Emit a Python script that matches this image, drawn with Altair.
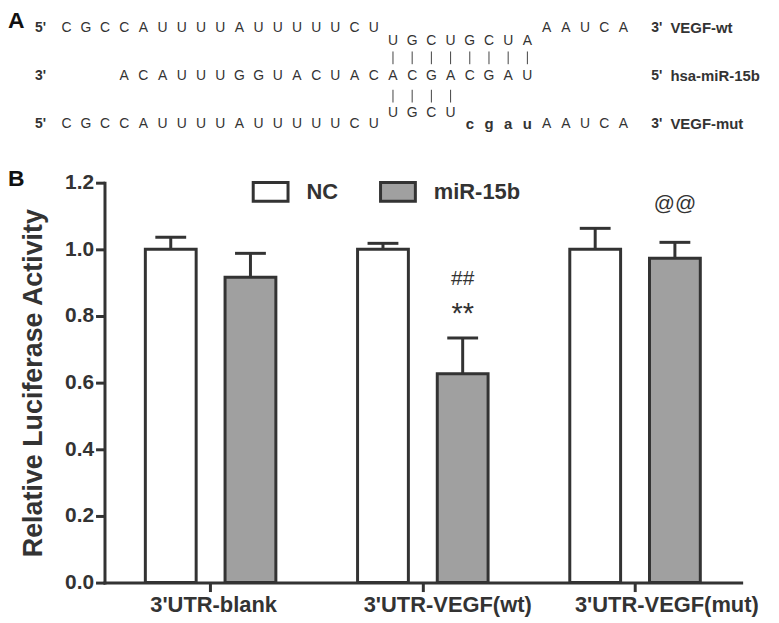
import altair as alt
import pandas as pd

# ---------------- Panel B data ----------------
groups = ["3'UTR-blank", "3'UTR-VEGF(wt)", "3'UTR-VEGF(mut)"]
treatments = ["NC", "miR-15b"]
nc_values = [1.0, 1.0, 1.0]
nc_err_top = [1.036, 1.018, 1.063]
mir_values = [0.916, 0.627, 0.973]
mir_err_top = [0.988, 0.734, 1.021]

annot_groups = ["3'UTR-VEGF(wt)", "3'UTR-VEGF(wt)", "3'UTR-VEGF(mut)"]
annot_treat = ["miR-15b", "miR-15b", "miR-15b"]
annot_text = ["##", "**", "@@"]
annot_y = [0.893, 0.779, 1.119]

y_ticks = [0.0, 0.2, 0.4, 0.6, 0.8, 1.0, 1.2]

# ---------------- Panel A data ----------------
wt_5 = "CGCCAUUUUAUUUUUCU"
wt_site = "UGCUGCUA"
utr_tail = "AAUCA"
mir_seq = "ACAUUUGGUACUACACGACGAU"
mut_paired = "UGCU"
mut_site = "cgau"
left_ends = ["5'", "3'", "5'"]
right_ends = ["3'", "5'", "3'"]
names = ["VEGF-wt", "hsa-miR-15b", "VEGF-mut"]

DARK = "#333333"
GRAY = "#a0a0a0"
FONT = "Liberation Sans"

# layout levels for the sequence diagram rows
ROW_WT, ROW_WT_SITE, ROW_PIPE1, ROW_MIR, ROW_PIPE2, ROW_MUT_SITE, ROW_MUT = 0, 0.65, 1.475, 2.375, 3.4, 4.25, 4.8
PIPE_HALF = 0.32

rows = []
def put(seq, start, level, kind):
    for i, ch in enumerate(seq):
        rows.append({"col": start + i, "level": level, "char": ch, "kind": kind,
                     "lo": level - PIPE_HALF, "hi": level + PIPE_HALF})

put(wt_5, -len(wt_5), ROW_WT, "seq")
put(wt_site, 0, ROW_WT_SITE, "seq")
put(utr_tail, len(wt_site), ROW_WT, "seq")
put("|" * len(wt_site), 0, ROW_PIPE1, "pipe")
put(mir_seq, len(wt_site) - len(mir_seq), ROW_MIR, "seq")
put("|" * len(mut_paired), 0, ROW_PIPE2, "pipe")
put(wt_5, -len(wt_5), ROW_MUT, "seq")
put(mut_paired, 0, ROW_MUT_SITE, "seq")
put(mut_site, len(mut_paired), ROW_MUT, "mut")
put(utr_tail, len(wt_site), ROW_MUT, "seq")
letters = pd.DataFrame(rows)

levels3 = [ROW_WT, ROW_MIR, ROW_MUT]
ends_left = pd.DataFrame({"col": [-18.65] * 3, "level": levels3, "char": left_ends})
ends_right = pd.DataFrame({"col": [13.45] * 3, "level": levels3, "char": right_ends})
name_df = pd.DataFrame({"col": [14.45] * 3, "level": levels3, "char": names})

sx = alt.Scale(domain=[-20, 20], range=[-96, 676], nice=False, zero=False)
sy = alt.Scale(domain=[0, 5], range=[-155, -55], nice=False, zero=False)
ax_x = alt.X("col:Q", scale=sx, axis=None)
ax_y = alt.Y("level:Q", scale=sy, axis=None)

seq_layer = alt.Chart(letters).transform_filter("datum.kind == 'seq'").mark_text(
    font=FONT, fontSize=14, color=DARK, align="center", baseline="middle"
).encode(x=ax_x, y=ax_y, text="char:N")
pipe_layer = alt.Chart(letters).transform_filter("datum.kind == 'pipe'").mark_rule(
    color="#444444", strokeWidth=1
).encode(x=ax_x, y=alt.Y("lo:Q", scale=sy, axis=None), y2="hi:Q")
mut_layer = alt.Chart(letters).transform_filter("datum.kind == 'mut'").mark_text(
    font=FONT, fontSize=15, fontWeight="bold", color=DARK, align="center", baseline="middle"
).encode(x=ax_x, y=ax_y, text="char:N")
endl_layer = alt.Chart(ends_left).mark_text(
    font=FONT, fontSize=14, fontWeight="bold", color=DARK, align="left", baseline="middle"
).encode(x=ax_x, y=ax_y, text="char:N")
endr_layer = alt.Chart(ends_right).mark_text(
    font=FONT, fontSize=14, fontWeight="bold", color=DARK, align="left", baseline="middle"
).encode(x=ax_x, y=ax_y, text="char:N")
name_layer = alt.Chart(name_df).mark_text(
    font=FONT, fontSize=15, fontWeight="bold", color=DARK, align="left", baseline="middle"
).encode(x=ax_x, y=ax_y, text="char:N")

label_A = alt.Chart(pd.DataFrame({"t": ["A"]})).mark_text(
    font=FONT, fontSize=23, fontWeight="bold", color="#111111", align="left", baseline="alphabetic"
).encode(x=alt.value(-97), y=alt.value(-155), text="t:N")
label_B = alt.Chart(pd.DataFrame({"t": ["B"]})).mark_text(
    font=FONT, fontSize=23, fontWeight="bold", color="#111111", align="left", baseline="alphabetic"
).encode(x=alt.value(-97), y=alt.value(3), text="t:N")

panel_a = alt.layer(seq_layer, pipe_layer, mut_layer, endl_layer, endr_layer, name_layer, label_A, label_B)

# ---------------- Panel B chart ----------------
bar_df = pd.DataFrame({
    "group": groups * 2,
    "treatment": ["NC"] * 3 + ["miR-15b"] * 3,
    "value": nc_values + mir_values,
    "err": nc_err_top + mir_err_top,
})
annot_df = pd.DataFrame({"group": annot_groups, "treatment": annot_treat, "t": annot_text, "ypos": annot_y})

x_axis = alt.Axis(
    labelAngle=0, labelFont=FONT, labelFontSize=22, labelFontWeight="bold", labelColor=DARK,
    labelPadding=3, tickSize=9, labelLimit=400,
    labelOffset={"condition": [
        {"test": "datum.index > 0.9", "value": 32},
        {"test": "datum.index > 0.4", "value": 25},
    ], "value": 3},
)
y_axis = alt.Axis(
    values=y_ticks, format=".1f", labelFont=FONT, labelFontSize=21, labelFontWeight="bold",
    labelColor=DARK, labelPadding=2, tickSize=9, titleFont=FONT, titleFontSize=27,
    titleFontWeight="bold", titleColor=DARK, titlePadding=17,
)
TITLE = "Relative Luciferase Activity"

def xenc():
    return alt.X("group:N", sort=groups, title=None,
                 scale=alt.Scale(domain=groups, paddingInner=0, paddingOuter=0), axis=x_axis)

def xoff():
    return alt.XOffset("treatment:N", sort=treatments,
                       scale=alt.Scale(domain=treatments, paddingInner=0.3625, paddingOuter=0.5125))

yscale = alt.Scale(domain=[0, 1.2], nice=False, zero=True)

bars = alt.Chart(bar_df).mark_bar(stroke=DARK, strokeWidth=3).encode(
    x=xenc(), xOffset=xoff(),
    y=alt.Y("value:Q", scale=yscale, axis=y_axis, title=TITLE),
    fill=alt.Fill("treatment:N", sort=treatments,
                  scale=alt.Scale(domain=treatments, range=["#ffffff", GRAY]),
                  legend=alt.Legend(
                      orient="none", legendX=148, legendY=-10, direction="horizontal", title=None,
                      symbolType="M-1,-0.54H1V0.54H-1Z", symbolSize=1225,
                      symbolStrokeColor=DARK, symbolStrokeWidth=3, symbolOpacity=1,
                      labelFont=FONT, labelFontSize=22, labelFontWeight="bold", labelColor=DARK,
                      labelOffset=17, columnPadding=36, padding=0,
                  )),
)
err_rules = alt.Chart(bar_df).mark_rule(color=DARK, strokeWidth=3).encode(
    x=xenc(), xOffset=xoff(),
    y=alt.Y("value:Q", scale=yscale, axis=y_axis, title=TITLE), y2="err:Q",
)
err_caps = alt.Chart(bar_df).mark_tick(color=DARK, thickness=3, size=31, orient="horizontal", opacity=1).encode(
    x=xenc(), xOffset=xoff(),
    y=alt.Y("err:Q", scale=yscale, axis=y_axis, title=TITLE),
)
annots = alt.Chart(annot_df).transform_filter("datum.t != '**'").mark_text(
    font=FONT, fontSize=21, color=DARK, align="center", baseline="alphabetic"
).encode(
    x=xenc(), xOffset=xoff(),
    y=alt.Y("ypos:Q", scale=yscale, axis=y_axis, title=TITLE),
    text="t:N",
)
stars = alt.Chart(annot_df).transform_filter("datum.t == '**'").mark_text(
    font=FONT, fontSize=29, color=DARK, align="center", baseline="alphabetic"
).encode(
    x=xenc(), xOffset=xoff(),
    y=alt.Y("ypos:Q", scale=yscale, axis=y_axis, title=TITLE),
    text="t:N",
)

panel_b = alt.layer(bars, err_rules, err_caps, annots, stars)

chart = alt.layer(panel_a, panel_b).resolve_scale(x="independent", y="independent").properties(
    width=640, height=402,
    autosize=alt.AutoSizeParams(type="none"),
    padding={"left": 97, "top": 174, "right": 30, "bottom": 37},
    background="white",
).configure_view(stroke=None).configure_axis(
    domainColor=DARK, domainWidth=3, tickColor=DARK, tickWidth=3, grid=False, domainCap="square",
)

chart.save("out.html", embed_options={"renderer": "svg", "actions": False})
